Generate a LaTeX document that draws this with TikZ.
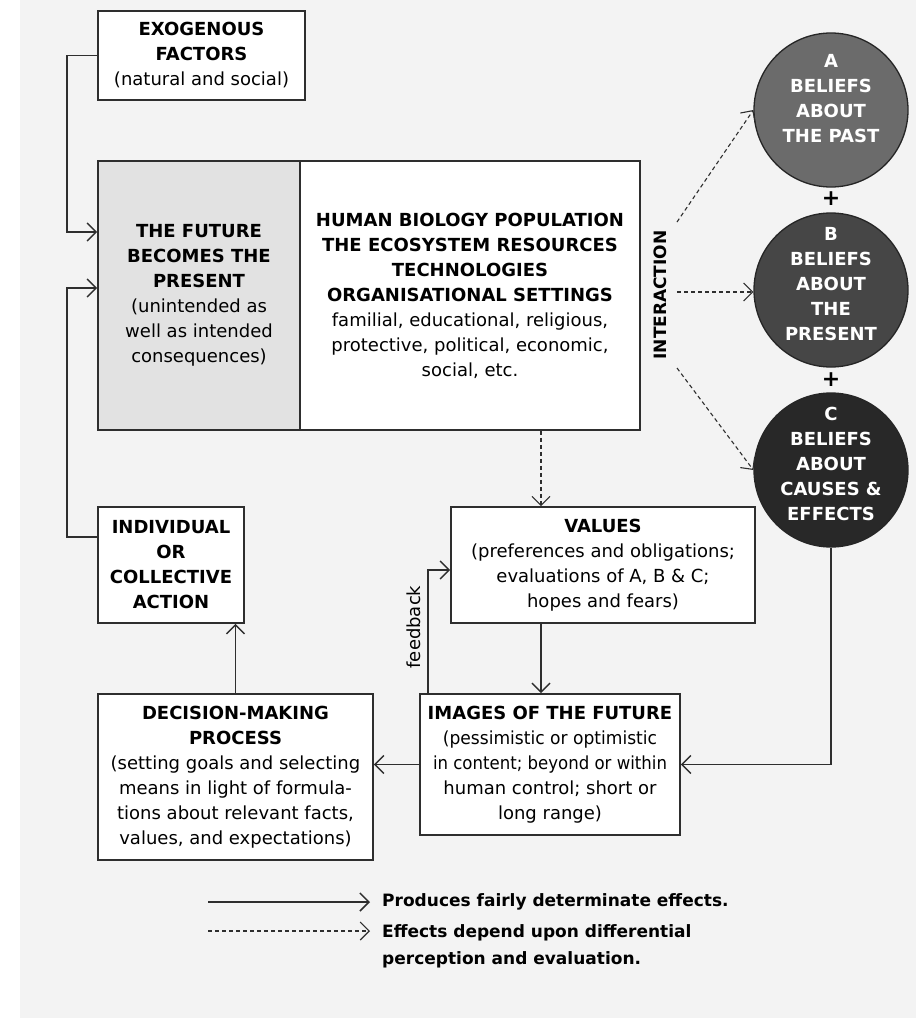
\documentclass[tikz,border=0pt]{standalone}
\usepackage{fontspec}
\usepackage{graphicx}
\setmainfont{DejaVu Sans}
\usetikzlibrary{arrows.meta,calc}
\definecolor{bggray}{HTML}{F3F3F3}
\definecolor{futgray}{HTML}{E2E2E2}
\definecolor{linec}{HTML}{2E2E2E}
\definecolor{circA}{HTML}{6B6B6B}
\definecolor{circB}{HTML}{464646}
\definecolor{circC}{HTML}{282828}
\newcommand\myfs{\fontsize{18}{25}\selectfont}
\begin{document}
\begin{tikzpicture}[x=1pt,y=-1pt,
  box/.style={draw=linec, line width=1.6pt, fill=white, align=center, inner sep=0pt, font=\myfs},
  circ/.style={circle, draw=black!85, line width=1.3pt, minimum size=154pt, inner sep=0pt},
  ctext/.style={text=white, align=center, font=\myfs\bfseries},
  arr/.style={draw=linec, line width=1.5pt, -{Straight Barb[length=9pt,width=18pt]}},
  darr/.style={arr, line width=1.1pt, dash pattern=on 4pt off 3pt},
  legtxt/.style={font=\fontsize{17}{27}\selectfont\bfseries, inner xsep=12pt, inner ysep=0pt}
]
\useasboundingbox (0,0) rectangle (916,1018);
\fill[white] (0,0) rectangle (916,1018);
\fill[bggray] (20,0) rectangle (916,1018);

% boxes
\node[box, minimum width=207pt, minimum height=89pt] (exo) at (201.5,55.5)
  {\textbf{EXOGENOUS}\\\textbf{FACTORS}\\(natural and social)};
\node[box, fill=futgray, minimum width=202pt, minimum height=269pt] (fut) at (199,295.5)
  {\textbf{THE FUTURE}\\\textbf{BECOMES THE}\\\textbf{PRESENT}\\(unintended as\\well as intended\\consequences)};
\node[box, minimum width=340pt, minimum height=269pt] (hum) at (470,295.5)
  {\textbf{HUMAN BIOLOGY POPULATION}\\\textbf{THE ECOSYSTEM RESOURCES}\\\textbf{TECHNOLOGIES}\\\textbf{ORGANISATIONAL SETTINGS}\\familial, educational, religious,\\protective, political, economic,\\social, etc.};
\node[box, minimum width=304pt, minimum height=116pt] (val) at (603,565)
  {\textbf{VALUES}\\(preferences and obligations;\\evaluations of A, B \& C;\\hopes and fears)};
\node[box, minimum width=260pt, minimum height=141pt] (img) at (550,764.5)
  {\textbf{IMAGES OF THE FUTURE}\\\scalebox{0.95}[1]{(pessimistic or optimistic}\\\scalebox{0.92}[1]{in content; beyond or within}\\human control; short or\\long range)};
\node[box, minimum width=275pt, minimum height=166pt] (dec) at (235.5,777)
  {\textbf{DECISION-MAKING}\\\textbf{PROCESS}\\(setting goals and selecting\\means in light of formula-\\tions about relevant facts,\\values, and expectations)};
\node[box, minimum width=146pt, minimum height=116pt] (ind) at (171,565)
  {\textbf{INDIVIDUAL}\\\textbf{OR}\\\textbf{COLLECTIVE}\\\textbf{ACTION}};

% circles
\node[circ, fill=circA] (cA) at (831,110) {};
\node[circ, fill=circB] (cB) at (831,290) {};
\node[circ, fill=circC] (cC) at (831,470) {};
\node[ctext] (tA) at (831,99) {A\\BELIEFS\\ABOUT\\THE PAST};
\node[ctext] (tB) at (831,284) {B\\BELIEFS\\ABOUT\\THE\\PRESENT};
\node[ctext] (tC) at (831,464) {C\\BELIEFS\\ABOUT\\CAUSES \&\\EFFECTS};
\node[font=\fontsize{22}{22}\selectfont\bfseries, inner sep=0pt] (p1) at (831,199) {+};
\node[font=\fontsize{22}{22}\selectfont\bfseries, inner sep=0pt] (p2) at (831,380) {+};

% labels
\node[rotate=90, font=\fontsize{17}{20}\selectfont\bfseries, inner sep=0pt] (inter) at (660,295) {INTERACTION};
\node[rotate=90, font=\myfs, inner sep=0pt] (fbl) at (414,627) {feedback};

% coordinates
\coordinate (j1) at (67,232);
\coordinate (j2) at (67,288);
\coordinate (ia) at (677,222);
\coordinate (ib) at (677,292);
\coordinate (ic) at (677,368);
\coordinate (vx) at (541,0);
\coordinate (fb) at (428,570);
\coordinate (cj) at (831,764.5);

% connectors
\draw[arr] (exo.west) -| (j1) -- (j1 -| fut.west);
\draw[arr] ($(ind.north west)+(0,31)$) -| (j2) -- (j2 -| fut.west);
\draw[arr] (dec.north) -- (dec.north |- ind.south);
\draw[arr] (img.west) -- (img.west -| dec.east);
\draw[arr] (vx |- val.south) -- (vx |- img.north);
\draw[darr] (vx |- hum.south) -- (vx |- val.north);
\draw[arr] (fb |- img.north) -- (fb) -- (fb -| val.west);
\draw[arr] (cC.south) -- (cj) -- (img.east);
\draw[darr] (ia) -- (cA.west);
\draw[darr] (ib) -- (ib -| cB.west);
\draw[darr] (ic) -- (cC.west);

% legend
\node[legtxt, anchor=west] (leg1) at (370,902) {Produces fairly determinate effects.};
\node[legtxt, anchor=west, align=left] (leg2) at (370,946) {Effects depend upon differential\\perception and evaluation.};
\coordinate (la) at (208,902);
\coordinate (lb) at (208,931);
\draw[arr] (la) -- (leg1.west);
\draw[darr] (lb) -- (lb -| leg2.west);
\end{tikzpicture}
\end{document}
